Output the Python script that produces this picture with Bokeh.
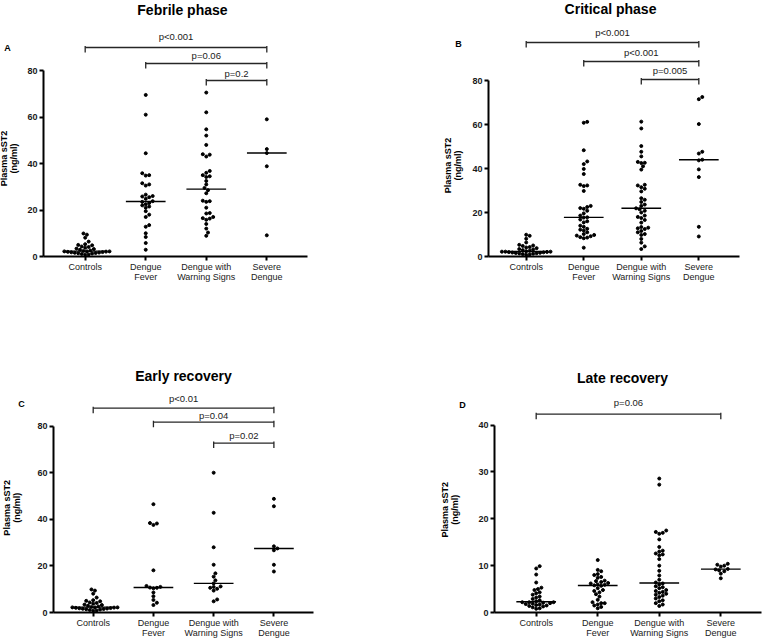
import numpy as np
from bokeh.plotting import figure
from bokeh.models import FixedTicker, Range1d
from bokeh.layouts import row, column
from bokeh.embed import file_html
from bokeh.resources import INLINE
from bokeh.core.properties import value

FONT = "Liberation Sans"

# ---------------- data ----------------
categories = ["Controls", "Dengue\nFever", "Dengue with\nWarning Signs", "Severe\nDengue"]
y_label_lines = ["Plasma sST2", "(ng/ml)"]

controls = [9.9, 9.4, 8.1, 6.4, 5.3, 5.0, 4.8, 4.3, 4.1, 3.8, 3.4, 3.2, 2.9, 2.6, 2.4,
            2.2, 2.2, 2.2, 2.1, 2.0, 1.9, 1.8, 1.7, 1.6, 1.5, 1.4, 1.3, 1.1, 0.9, 0.8]

febrile_df = [69.5, 61.0, 44.4, 35.8, 35.0, 34.8, 31.5, 31.0, 30.5, 26.6, 26.0, 25.8, 25.5, 24.8,
              23.8, 23.5, 23.0, 22.5, 22.0, 21.5, 21.0, 19.5, 18.0, 17.0, 13.5, 12.8, 10.0, 8.4, 5.8, 2.9]
febrile_dws = [70.5, 62.0, 54.7, 52.0, 48.0, 44.0, 43.8, 43.0, 36.8, 36.0, 35.0, 34.5, 34.2, 32.5,
               31.0, 29.5, 28.5, 27.2, 24.0, 23.8, 23.5, 21.0, 18.7, 18.5, 17.0, 16.5, 16.3, 15.8,
               14.0, 12.0, 10.3, 8.9]
febrile_sd = [59.0, 46.2, 44.5, 38.8, 9.1]

critical_df = [61.2, 60.8, 48.3, 43.2, 42.0, 39.8, 37.5, 32.6, 32.3, 32.0, 29.8, 23.0, 22.5, 22.0,
               21.7, 20.8, 19.6, 18.6, 17.8, 17.7, 16.8, 16.0, 15.5, 14.0, 13.5, 12.6, 12.2, 11.8,
               11.0, 10.2, 9.8, 9.5, 9.2, 8.8, 8.6, 8.3, 4.0]
critical_dws = [61.3, 58.2, 50.2, 47.6, 45.5, 43.0, 42.6, 42.5, 41.0, 39.5, 32.6, 32.3, 31.5, 30.8,
                29.6, 26.5, 25.8, 24.8, 23.6, 23.0, 21.9, 21.5, 20.8, 20.0, 18.6, 18.0, 17.5, 16.6,
                15.4, 13.4, 13.1, 12.8, 12.5, 11.6, 11.0, 10.2, 9.8, 8.0, 6.3, 4.6, 3.4]
critical_sd = [72.5, 71.5, 60.2, 47.6, 46.8, 44.0, 43.7, 39.6, 36.1, 13.5, 9.1]

early_df = [46.5, 38.4, 38.2, 37.6, 18.1, 11.4, 11.0, 10.7, 10.6, 10.4, 8.6, 7.0, 5.4, 4.2, 3.2]
early_dws = [60.0, 42.8, 28.0, 20.5, 16.8, 15.4, 13.8, 12.5, 11.2, 11.0, 10.6, 10.2, 9.4, 5.6, 4.8]
early_sd = [48.8, 45.6, 28.4, 27.5, 26.7, 20.5, 17.6]

late_df = [11.2, 9.1, 8.8, 8.2, 8.0, 7.6, 7.4, 6.8, 6.7, 6.5, 6.3, 6.2, 6.0, 5.9, 5.8, 5.7, 5.2,
           4.8, 4.6, 4.3, 3.9, 3.4, 2.7, 2.2, 2.0, 2.0, 1.7, 1.5, 1.2, 0.9]
late_dws = [28.6, 27.3, 17.5, 17.2, 17.0, 16.8, 15.6, 14.0, 13.2, 13.0, 12.6, 12.4, 12.2, 11.4,
            10.0, 8.9, 7.9, 7.0, 6.4, 6.2, 6.0, 5.6, 5.4, 5.2, 4.8, 4.6, 4.4, 4.2, 4.0, 3.8, 3.6,
            3.3, 3.0, 2.6, 2.4, 2.0, 1.7, 1.4]
late_sd = [10.4, 10.2, 10.0, 9.8, 9.3, 9.2, 9.0, 8.8, 8.3, 7.3]

ticks_80 = [0, 20, 40, 60, 80]
ticks_40 = [0, 10, 20, 30, 40]

febrile_p = [(1, 4, "p<0.001"), (2, 4, "p=0.06"), (3, 4, "p=0.2")]
critical_p = [(1, 4, "p<0.001"), (2, 4, "p<0.001"), (3, 4, "p=0.005")]
early_p = [(1, 4, "p<0.01"), (2, 4, "p=0.04"), (3, 4, "p=0.02")]
late_p = [(1, 4, "p=0.06")]

# ---------------- layout (page pixel geometry) ----------------
ROW_H = 320
ROW_AXIS = {0: 256, 320: 613}      # page y of the x axis, shared by plots in a row
panels = [
    dict(letter="A", title="Febrile phase", groups=[controls, febrile_df, febrile_dws, febrile_sd],
         ticks=ticks_80, comps=febrile_p,
         cl=0, cw=380, rt=0, ax=41, right=307, ytop=70, cx1=83, sx=61,
         br_y=[47, 63, 80], br_off=[6, 3, 2], title_xy=(181, 9), letter_xy=(7, 47),
         ylab_xy=(8, 158)),
    dict(letter="B", title="Critical phase", groups=[controls, critical_df, critical_dws, critical_sd],
         ticks=ticks_80, comps=critical_p,
         cl=380, cw=382, rt=0, ax=486, right=739, ytop=80, cx1=524, sx=58,
         br_y=[42, 61, 79], br_off=[5, 4, 4], title_xy=(609, 8), letter_xy=(458, 43),
         ylab_xy=(452, 165)),
    dict(letter="C", title="Early recovery", groups=[controls, early_df, early_dws, early_sd],
         ticks=ticks_80, comps=early_p,
         cl=0, cw=380, rt=320, ax=51, right=313, ytop=426, cx1=91, sx=60.7,
         br_y=[408, 422, 443], br_off=[4, 1, 2], title_xy=(182, 376), letter_xy=(21, 404),
         ylab_xy=(11, 508)),
    dict(letter="D", title="Late recovery", groups=[controls, late_df, late_dws, late_sd],
         ticks=ticks_40, comps=late_p,
         cl=380, cw=382, rt=320, ax=492, right=761, ytop=425, cx1=534, sx=62,
         br_y=[414], br_off=[6], title_xy=(621, 378), letter_xy=(462, 405),
         ylab_xy=(449, 510)),
]

AXIS_PANEL = 17


def swarm(vals, sy, d=3.5):
    """Beeswarm offsets in pixels."""
    vals = np.asarray(vals, float)
    order = np.argsort(vals)
    placed = []
    out = np.zeros(len(vals))
    cands = [0.0]
    for m in range(1, 60):
        cands += [m * d / 2, -m * d / 2]
    for i in order:
        y = vals[i] * sy
        for c in cands:
            if all((c - px) ** 2 + (y - py) ** 2 >= (d * 0.98) ** 2 for px, py in placed):
                placed.append((c, y))
                out[i] = c
                break
    return out


rows = {0: [], 320: []}
for P in panels:
    rt = P["rt"]
    y0 = ROW_AXIS[rt]
    bottom_border = rt + ROW_H - y0
    sy = (y0 - P["ytop"]) / P["ticks"][-1]
    sx, cx1 = P["sx"], P["cx1"]

    def dx(px):
        return 1 + (px - cx1) / sx

    def dy(py):
        return (y0 - py) / sy

    # ---- left strip with panel letter and y-axis title (page pixel coords) ----
    strip_w = P["ax"] - AXIS_PANEL - P["cl"]
    s = figure(width=strip_w, height=ROW_H, output_backend="svg", toolbar_location=None,
               x_range=Range1d(P["cl"], P["cl"] + strip_w), y_range=Range1d(y0, rt),
               x_axis_location=None, y_axis_location=None, title=None,
               min_border_left=0, min_border_right=0, min_border_top=0,
               min_border_bottom=bottom_border)
    s.outline_line_color = None
    s.grid.visible = False
    lx, ly = P["letter_xy"]
    s.text(x=[lx], y=[ly], text=[P["letter"]], text_align="center",
           text_baseline="middle", text_font=value(FONT), text_font_style="bold",
           text_font_size="9px", text_color="black")
    yx, yy = P["ylab_xy"]
    for n, line in enumerate(y_label_lines):
        s.text(x=[yx + (n - 0.5) * 10], y=[yy], text=[line],
               angle=np.pi / 2, text_align="center", text_baseline="middle",
               text_font=value(FONT), text_font_style="bold", text_font_size="9px",
               text_color="black")

    # ---- main panel ----
    fig_left = P["ax"] - AXIS_PANEL
    fig_w = P["cl"] + P["cw"] - fig_left
    x_start, x_end = dx(P["ax"]), dx(P["right"])
    y_end = dy(rt)
    ymax_tick = P["ticks"][-1]

    p = figure(width=fig_w, height=ROW_H, output_backend="svg", toolbar_location=None,
               x_range=Range1d(x_start, x_end), y_range=Range1d(0, y_end), title=None,
               min_border_left=AXIS_PANEL, min_border_right=P["cl"] + P["cw"] - P["right"],
               min_border_top=0, min_border_bottom=bottom_border)
    p.outline_line_color = None
    p.grid.visible = False

    xa, ya = p.xaxis[0], p.yaxis[0]
    for a in (xa, ya):
        a.axis_line_width = 2
        a.axis_line_color = "black"
        a.major_tick_line_width = 2
        a.major_tick_line_color = "black"
        a.major_tick_out = 4
        a.major_tick_in = 0
        a.minor_tick_line_color = None
        a.major_label_text_font = FONT
        a.major_label_text_color = "#1a1a1a"
        a.major_label_text_font_size = "9px"
    xa.ticker = FixedTicker(ticks=[1, 2, 3, 4])
    xa.major_label_overrides = {i + 1: c for i, c in enumerate(categories)}
    xa.major_label_standoff = 1
    xa.major_label_text_line_height = 1.0
    ya.ticker = FixedTicker(ticks=P["ticks"])
    ya.bounds = (0, ymax_tick)
    ya.major_label_text_font_style = "bold"
    ya.major_label_standoff = 2

    # dots and medians
    hw = 20 / sx
    for k, vals in enumerate(P["groups"]):
        off = swarm(vals, sy)
        xs = (k + 1) + off / sx
        p.scatter(xs, vals, size=3.0, color="black", line_color="black")
        med = float(np.median(vals))
        p.segment(x0=[k + 1 - hw], y0=[med], x1=[k + 1 + hw], y1=[med],
                  line_color="black", line_width=1.4)

    # significance brackets
    for (i, j, txt), byp, boff in zip(P["comps"], P["br_y"], P["br_off"]):
        by = dy(byp)
        p.segment(x0=[i], y0=[by], x1=[j], y1=[by], line_color="#262626", line_width=1.3)
        p.segment(x0=[i, j], y0=[by - 5 / sy] * 2, x1=[i, j], y1=[by + 1.5 / sy] * 2,
                  line_color="#262626", line_width=1.3)
        p.text(x=[(i + j) / 2], y=[by + boff / sy], text=[txt], text_align="center",
               text_baseline="bottom", text_font=value(FONT), text_font_size="9.5px",
               text_color="#1a1a1a")

    # panel title
    tx, ty = P["title_xy"]
    p.text(x=[dx(tx)], y=[dy(ty)], text=[P["title"]], text_align="center",
           text_baseline="middle", text_font=value(FONT), text_font_style="bold",
           text_font_size="14px", text_color="black")

    rows[rt] += [s, p]

layout = column(row(*rows[0]), row(*rows[320]))
open("out.html", "w").write(file_html(layout, INLINE))
